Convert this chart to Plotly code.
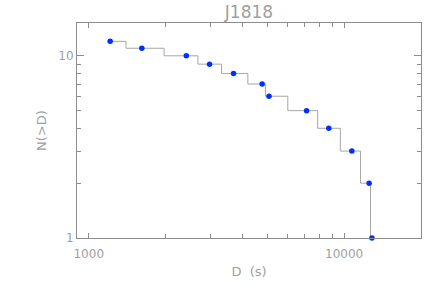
import plotly.graph_objects as go

# durations D (s) and cumulative counts N(>D)
dur = [1213, 1614, 2410, 2972, 3690, 4775, 5080, 7128, 8710, 10720, 12530, 12850]
n_gt = [12, 11, 10, 9, 8, 7, 6, 5, 4, 3, 2, 1]

x_major = [1000, 10000]
x_minor = [2000, 3000, 4000, 5000, 6000, 7000, 8000, 9000, 20000]
y_major = [1, 10]
y_minor = [2, 3, 4, 5, 6, 7, 8, 9]

gray = "#a0a0a0"
axcol = "#8c8c8c"

fig = go.Figure()
fig.add_trace(go.Scatter(
    x=dur, y=n_gt, mode="lines",
    line=dict(color="#a6a6a6", width=1, shape="hvh"),
    hoverinfo="skip"))
fig.add_trace(go.Scatter(
    x=dur, y=n_gt, mode="markers",
    marker=dict(color="#0030ff", size=5.5),
    cliponaxis=False))

axis_common = dict(
    type="log", showgrid=False, zeroline=False, automargin=False,
    showline=True, linecolor=axcol, linewidth=1,
    mirror="allticks", ticks="inside", tickcolor=axcol,
    tickfont=dict(family="DejaVu Sans", size=12, color=gray),
)

fig.update_layout(
    width=445, height=289,
    margin=dict(l=77, r=24, t=23, b=51),
    paper_bgcolor="white", plot_bgcolor="white",
    showlegend=False,
    title=dict(text="J1818", xref="paper", x=0.5, xanchor="center",
               yref="container", y=1 - 12 / 289, yanchor="middle",
               font=dict(family="DejaVu Sans", size=17, color=gray)),
    font=dict(family="DejaVu Sans", color=gray),
)
fig.update_xaxes(
    **axis_common,
    range=[2.954, 4.301],
    tickvals=x_major, ticktext=[str(v) for v in x_major],
    ticklen=5, ticklabelstandoff=5,
    minor=dict(tickvals=x_minor, ticks="inside", ticklen=4, tickcolor=axcol),
    title=dict(text="D  (s)", font=dict(size=13, color=gray), standoff=6),
)
fig.update_yaxes(
    **axis_common,
    range=[0, 1.18],
    tickvals=y_major, ticktext=[str(v) for v in y_major],
    ticklen=7,
    minor=dict(tickvals=y_minor, ticks="inside", ticklen=4, tickcolor=axcol),
    title=dict(text="N(>D)", font=dict(size=13, color=gray), standoff=8),
)

# drop the browser's default body margin so the figure sits at the page corner
fig.write_html("out.html", config={"displayModeBar": False},
               post_script="document.body.style.margin='0';")
